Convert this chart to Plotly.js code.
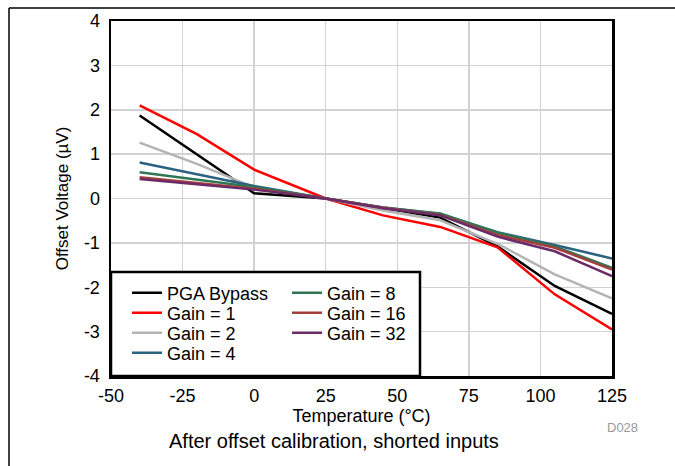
<!DOCTYPE html>
<html>
<head>
<meta charset="utf-8">
<script src="https://cdn.plot.ly/plotly-3.0.1.min.js"></script>
<style>html,body{margin:0;padding:0;background:#fff;}#chart{width:675px;height:466px;}</style>
</head>
<body>
<div id="chart"></div>
<script>
const temps = [-40, -20, 0, 25, 45, 65, 85, 105, 125];
const pgaBypass = [1.87, 1.0, 0.12, 0, -0.22, -0.43, -1.08, -1.97, -2.6];
const gain1 = [2.1, 1.45, 0.65, 0, -0.38, -0.64, -1.1, -2.16, -2.95];
const gain2 = [1.26, 0.78, 0.25, 0, -0.27, -0.49, -1.02, -1.71, -2.25];
const gain4 = [0.81, 0.55, 0.28, 0, -0.2, -0.35, -0.76, -1.05, -1.35];
const gain8 = [0.59, 0.42, 0.26, 0, -0.2, -0.34, -0.77, -1.08, -1.56];
const gain16 = [0.48, 0.35, 0.22, 0, -0.21, -0.37, -0.82, -1.11, -1.6];
const gain32 = [0.44, 0.32, 0.2, 0, -0.22, -0.38, -0.86, -1.19, -1.75];
const seriesNames = ['PGA Bypass', 'Gain = 1', 'Gain = 2', 'Gain = 4', 'Gain = 8', 'Gain = 16', 'Gain = 32'];
const seriesData = [pgaBypass, gain1, gain2, gain4, gain8, gain16, gain32];
const seriesColors = ['#000000', '#ff0000', '#b4b4b4', '#2a6282', '#2f7655', '#a33f3d', '#6b2a68'];
const xTicks = [-50, -25, 0, 25, 50, 75, 100, 125];
const yTicks = [-4, -3, -2, -1, 0, 1, 2, 3, 4];

const FONT = 'Liberation Sans, Arial, sans-serif';
const L = 111, T = 21, W = 501, H = 355;
const px = v => (v - L) / W;
const py = v => (T + H - v) / H;

const legendIds = ['legend', 'legend2', 'legend3', 'legend4', 'legend5', 'legend6', 'legend7'];
// legend anchor positions in pixels (layout only)
const legendPos = [[127, 293], [127, 313], [127, 333], [127, 353], [287, 293], [287, 313], [287, 333]];

const traces = seriesData.map((d, i) => ({
  x: temps, y: d, name: seriesNames[i], type: 'scatter', mode: 'lines',
  line: {color: seriesColors[i], width: 2.5},
  legend: legendIds[i]
}));

const layout = {
  width: 675, height: 466,
  margin: {l: L, r: 675 - L - W, t: T, b: 466 - T - H},
  paper_bgcolor: '#fff', plot_bgcolor: '#fff',
  showlegend: true,
  font: {family: FONT, size: 18, color: '#000'},
  xaxis: {
    range: [-50, 125], tickvals: xTicks, ticktext: xTicks.map(String),
    showgrid: true, gridcolor: '#d2d2d2', gridwidth: 1.5, zeroline: false,
    showline: true, linecolor: '#000', linewidth: 2.5, mirror: true,
    ticks: 'outside', ticklen: 2, tickcolor: 'rgba(0,0,0,0)',
    tickfont: {family: FONT, size: 18, color: '#000'},
    title: {text: 'Temperature (°C)', font: {family: FONT, size: 18, color: '#000'}, standoff: 0}
  },
  yaxis: {
    range: [-4, 4], tickvals: yTicks, ticktext: yTicks.map(String),
    showgrid: true, gridcolor: '#d2d2d2', gridwidth: 1.5, zeroline: false,
    showline: true, linecolor: '#000', linewidth: 2.5, mirror: true,
    ticks: 'outside', ticklen: 5, tickcolor: 'rgba(0,0,0,0)',
    tickfont: {family: FONT, size: 18, color: '#000'},
    title: {text: 'Offset Voltage (µV)', font: {family: FONT, size: 17, color: '#000'}, standoff: 11}
  },
  shapes: [
    {type: 'rect', xref: 'paper', yref: 'paper', x0: px(111), x1: px(420), y0: py(376), y1: py(272),
     fillcolor: '#fff', line: {color: '#000', width: 2.5}, layer: 'above'},
    {type: 'line', xref: 'paper', yref: 'paper', x0: px(9), x1: px(9), y0: py(466), y1: py(8), line: {color: '#000', width: 1.5}},
    {type: 'line', xref: 'paper', yref: 'paper', x0: px(9), x1: px(675), y0: py(8), y1: py(8), line: {color: '#000', width: 1.5}}
  ],
  annotations: [
    {text: 'After offset calibration, shorted inputs', xref: 'paper', yref: 'paper',
     x: px(334), y: py(441), xanchor: 'center', yanchor: 'middle', showarrow: false,
     font: {family: FONT, size: 20, color: '#000'}},
    {text: 'D028', xref: 'paper', yref: 'paper', x: px(622), y: py(427), xanchor: 'center', yanchor: 'middle',
     showarrow: false, font: {family: FONT, size: 13, color: '#999'}}
  ]
};
legendIds.forEach((id, i) => {
  layout[id] = {
    bgcolor: 'rgba(0,0,0,0)', borderwidth: 0,
    font: {family: FONT, size: 18, color: '#000'},
    xanchor: 'left', yanchor: 'middle', itemwidth: 30,
    x: px(legendPos[i][0]), y: py(legendPos[i][1])
  };
});
Plotly.newPlot('chart', traces, layout, {displayModeBar: false, staticPlot: true});
</script>
</body>
</html>
